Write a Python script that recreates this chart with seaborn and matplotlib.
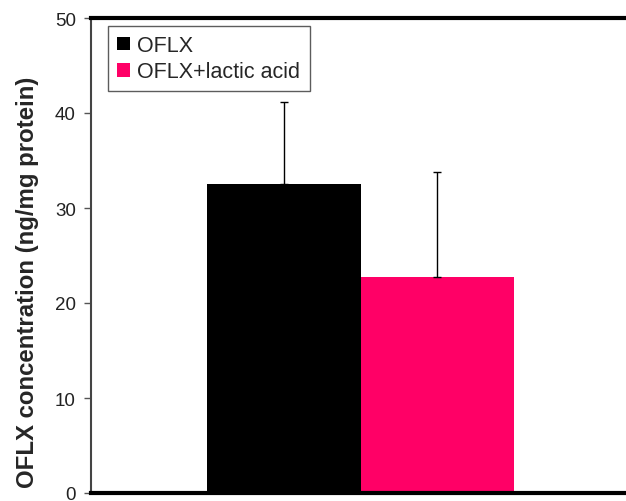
import matplotlib
matplotlib.use("Agg")
import matplotlib.pyplot as plt
import seaborn as sns
import pandas as pd
import numpy as np

groups = ["OFLX", "OFLX+lactic acid"]
means = [32.5, 22.7]
errors = [8.7, 11.1]
colors = ["#000000", "#FF0066"]
yticks = [0, 10, 20, 30, 40, 50]

sns.set_style("white")
plt.rcParams['font.family'] = ['Liberation Sans', 'DejaVu Sans']

df = pd.DataFrame({"x": ["g", "g"], "group": groups, "value": means})

fig = plt.figure(figsize=(6.26, 5.02), dpi=100)
ax = fig.add_axes([91/626, 1-494/502, 1-91/626, (494-19)/502])

sns.barplot(data=df, x="x", y="value", hue="group", palette=colors,
            hue_order=groups, width=0.8, errorbar=None, ax=ax,
            saturation=1, linewidth=0, legend=True)

for p, e in zip(ax.patches[:2], errors):
    cx = p.get_x() + p.get_width()/2
    h = p.get_height()
    ax.errorbar([cx], [h], yerr=[[0], [e]], fmt='none', ecolor='black',
                elinewidth=1, capsize=3, capthick=1)

ax.set_ylim(0, 50)
ax.set_xlim(-0.704, 0.693)
ax.set_yticks(yticks)
ax.set_yticklabels([str(t) for t in yticks], fontsize=13.5, color='#222222')
ax.set_xticks([])
ax.set_xlabel("")
ax.set_ylabel("OFLX concentration (ng/mg protein)", fontsize=17.3, fontweight='bold')
ax.yaxis.set_label_coords(-0.097, 0.446)
ax.tick_params(axis='y', which='both', left=True, length=5, width=1, color='#555555', pad=6)

ax.spines['right'].set_visible(False)
ax.spines['top'].set_linewidth(3)
ax.spines['top'].set_color('black')
ax.spines['bottom'].set_linewidth(3)
ax.spines['bottom'].set_color('black')
ax.spines['left'].set_linewidth(1.5)
ax.spines['left'].set_color('#444444')

leg = ax.legend(loc='upper left', bbox_to_anchor=(17/535, 1-8/475), frameon=True,
                fontsize=15.5, handlelength=0.6, handleheight=0.6, handletextpad=0.35,
                borderpad=0.42, labelspacing=0.25, fancybox=False, borderaxespad=0)
leg.get_frame().set_edgecolor('#333333')
leg.get_frame().set_linewidth(1)

fig.savefig("out.png", dpi=100)
